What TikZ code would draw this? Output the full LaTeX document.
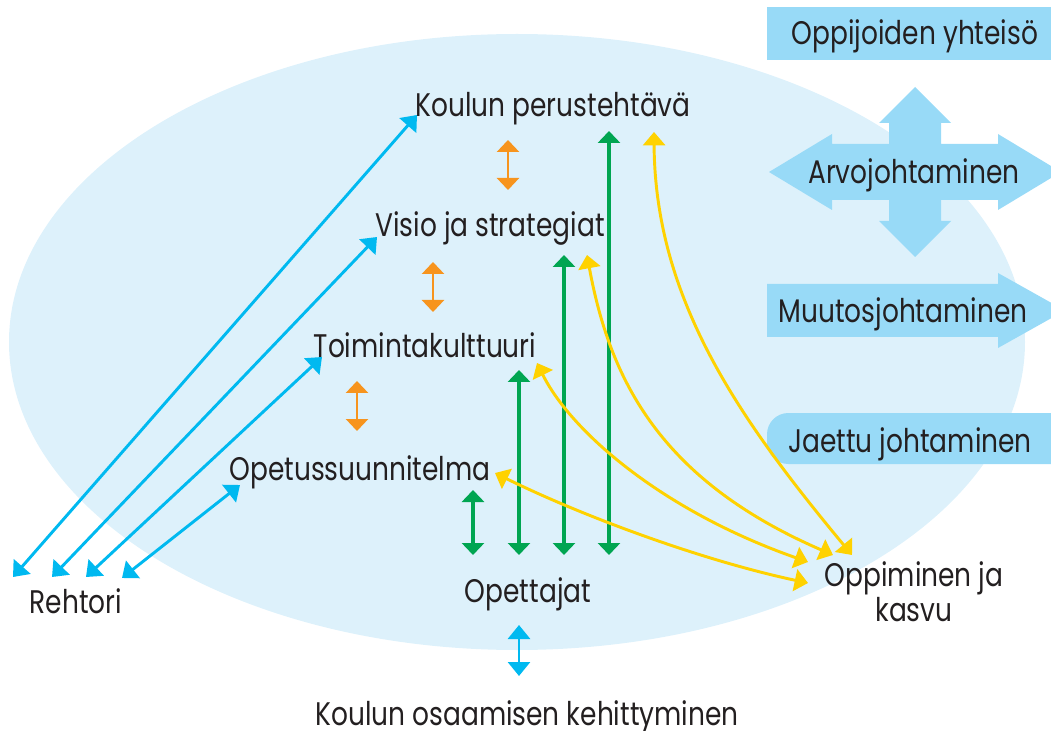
\documentclass[tikz,border=0pt]{standalone}
\usepackage{fontspec}
\setmainfont[FakeStretch=0.81]{Poppins}
\usetikzlibrary{arrows.meta}
\definecolor{ellfill}{HTML}{DDF1FB}
\definecolor{boxfill}{HTML}{98DAF7}
\definecolor{cyanA}{HTML}{00B9F0}
\definecolor{orangeA}{HTML}{F7941D}
\definecolor{greenA}{HTML}{00A551}
\definecolor{yellowA}{HTML}{FFD200}
\definecolor{txt}{HTML}{231F20}
\begin{document}
\begin{tikzpicture}[x=0.75pt,y=-0.75pt,
  lbl/.style={font=\fontsize{24.5}{28}\selectfont, text=txt, inner sep=0pt, anchor=base},
  dbl/.style={line width=2.2pt, {Triangle[length=9pt,width=16.5pt]}-{Triangle[length=9pt,width=16.5pt]}},
  cyanarr/.style={line width=2.2pt, draw=cyanA, {Triangle[length=10.5pt,width=16.5pt]}-{Triangle[length=10.5pt,width=16.5pt]}},
  orangearr/.style={dbl, draw=orangeA, line width=2pt},
  greenarr/.style={dbl, draw=greenA, line width=2.5pt},
  yellowarr/.style={draw=yellowA, line width=2.2pt, {Triangle[length=10pt,width=16.5pt]}-{Triangle[length=10pt,width=16.5pt]}},
  shapefill/.style={fill=boxfill}
]
\useasboundingbox (0,0) rectangle (1051,731);
\clip (0,0) rectangle (1051,731);

% background ellipse
\fill[ellfill] (517,342) ellipse [x radius=381pt, y radius=231pt];

% right side shapes
\fill[shapefill] (767,7) rectangle (1060,60);
\fill[shapefill] (915,87) -- (951,123) -- (941,123) -- (941,144) -- (998,144) -- (998,134)
  -- (1061,172) -- (998,210) -- (998,200) -- (941,200) -- (941,221) -- (951,221)
  -- (915,257) -- (879,221) -- (889,221) -- (889,200) -- (832,200) -- (832,210)
  -- (769,172) -- (832,134) -- (832,144) -- (889,144) -- (889,123) -- (879,123) -- cycle;
\fill[shapefill] (767,284) -- (998,284) -- (998,273) -- (1065,310.5) -- (998,348) -- (998,337) -- (767,337) -- cycle;
\fill[shapefill, rounded corners=16pt] (767,413) rectangle (1075,464);

% text nodes
\node[lbl] (oy) at (915,45) {Oppijoiden yhteisö};
\node[lbl] (aj) at (914,184) {Arvojohtaminen};
\node[lbl] (mj) at (903,323) {Muutosjohtaminen};
\node[lbl] (jj) at (910,452) {Jaettu johtaminen};
\node[lbl] (kp) at (553,117) {Koulun perustehtävä};
\node[lbl] (vs) at (490,237) {Visio ja strategiat};
\node[lbl] (tk) at (425,358) {Toimintakulttuuri};
\node[lbl] (os) at (360,480) {Opetussuunnitelma};
\node[lbl] (re) at (76,613) {Rehtori};
\node[lbl] (op) at (528,602) {Opettajat};
\node[lbl] (ok1) at (914,586) {Oppiminen ja};
\node[lbl] (ok2) at (914,621) {kasvu};
\node[lbl] (ko) at (527,725) {Koulun osaamisen kehittyminen};

% arrow end points
\coordinate (c1a) at (13,577);  \coordinate (c1b) at (417,115);
\coordinate (c2a) at (52,577);  \coordinate (c2b) at (377,237);
\coordinate (c3a) at (86,577);  \coordinate (c3b) at (322,357);
\coordinate (c4a) at (122,578); \coordinate (c4b) at (240,485);
\coordinate (cba) at (519,625); \coordinate (cbb) at (519,676);

\coordinate (o1a) at (508,140); \coordinate (o1b) at (508,190);
\coordinate (o2a) at (433,262); \coordinate (o2b) at (433,312);
\coordinate (o3a) at (357,381); \coordinate (o3b) at (357,431);

\coordinate (g1a) at (473,490); \coordinate (g1b) at (473,555);
\coordinate (g2a) at (519,370); \coordinate (g2b) at (519,555);
\coordinate (g3a) at (564,255); \coordinate (g3b) at (564,555);
\coordinate (g4a) at (609,131); \coordinate (g4b) at (609,555);

\coordinate (y1a) at (654,132); \coordinate (y1b) at (852,555);
\coordinate (y2a) at (587,255); \coordinate (y2b) at (833,555);
\coordinate (y3a) at (537,363); \coordinate (y3b) at (808,562);
\coordinate (y4a) at (495,473); \coordinate (y4b) at (808,583);

% cyan arrows
\draw[cyanarr] (c1a) -- (c1b);
\draw[cyanarr] (c2a) -- (c2b);
\draw[cyanarr] (c3a) -- (c3b);
\draw[cyanarr] (c4a) -- (c4b);
\draw[cyanarr] (cba) -- (cbb);

% orange arrows
\draw[orangearr] (o1a) -- (o1b);
\draw[orangearr] (o2a) -- (o2b);
\draw[orangearr] (o3a) -- (o3b);

% green arrows
\draw[greenarr] (g1a) -- (g1b);
\draw[greenarr] (g2a) -- (g2b);
\draw[greenarr] (g3a) -- (g3b);
\draw[greenarr] (g4a) -- (g4b);

% yellow arrows
\draw[yellowarr] (y1a) .. controls (655,300) and (740,420) .. (y1b);
\draw[yellowarr] (y2a) .. controls (610,380) and (660,480) .. (y2b);
\draw[yellowarr] (y3a) .. controls (570,430) and (660,510) .. (y3b);
\draw[yellowarr] (y4a) .. controls (580,515) and (700,560) .. (y4b);
\end{tikzpicture}
\end{document}
